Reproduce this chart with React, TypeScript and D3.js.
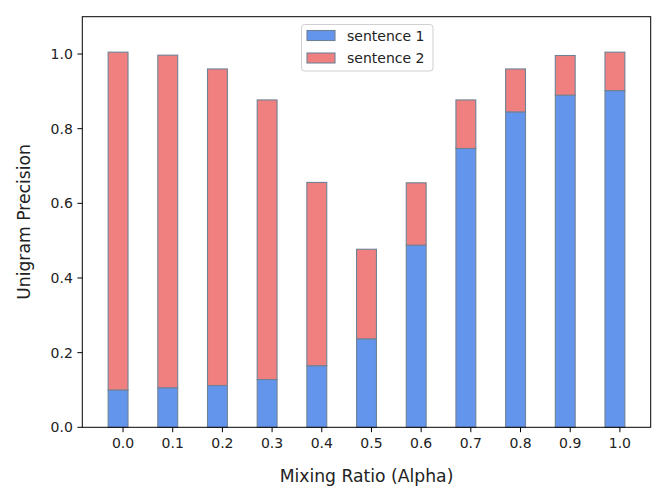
import React from "react";
import * as d3 from "d3";

const categories: string[] = ["0.0", "0.1", "0.2", "0.3", "0.4", "0.5", "0.6", "0.7", "0.8", "0.9", "1.0"];
const sentence1: number[] = [0.100, 0.106, 0.112, 0.128, 0.165, 0.237, 0.488, 0.747, 0.845, 0.890, 0.902];
const sentence2: number[] = [0.905, 0.891, 0.848, 0.749, 0.491, 0.240, 0.167, 0.130, 0.115, 0.106, 0.103];
const seriesNames: string[] = ["sentence 1", "sentence 2"];
const yTicks: number[] = [0, 0.2, 0.4, 0.6, 0.8, 1.0];

const W = 666;
const H = 502;
const M = { left: 82.3, right: 650.7, top: 16.7, bottom: 427.3 };
const colors = ["#6495ED", "#F08080"];
const edge = "#6f8295";
const font = "DejaVu Sans, sans-serif";
const tickFS = 14;
const labelFS = 17.2;

export default function App() {
  const x = d3.scaleLinear().domain([-0.72, categories.length - 1 + 0.72]).range([M.left, M.right]);
  const y = d3.scaleLinear().domain([0, 1.1]).range([M.bottom, M.top]);
  const barW = x(0.4) - x(0);
  const rows = categories.map((c, i) => ({ i, s1: sentence1[i], s2: sentence2[i] }));
  const stacked = d3.stack<any>().keys(["s1", "s2"])(rows);

  return (
    <svg width={W} height={H} style={{ position: "absolute", left: 0, top: 0, background: "#fff" }} fontFamily={font}>
      <rect x={0} y={0} width={W} height={H} fill="#fff" />
      {stacked.map((layer, li) => (
        <g key={li}>
          {layer.map((d, i) => (
            <rect
              key={i}
              x={x(i) - barW / 2}
              y={y(d[1])}
              width={barW}
              height={y(d[0]) - y(d[1])}
              fill={colors[li]}
              stroke={edge}
              strokeWidth={1.1}
            />
          ))}
        </g>
      ))}
      <rect x={M.left} y={M.top} width={M.right - M.left} height={M.bottom - M.top} fill="none" stroke="#000" strokeWidth={1} />
      {yTicks.map((t) => (
        <g key={t}>
          <line x1={M.left - 4.9} x2={M.left} y1={y(t)} y2={y(t)} stroke="#000" strokeWidth={1} />
          <text x={M.left - 9.5} y={y(t)} dy="0.36em" textAnchor="end" fontSize={tickFS} fill="#222">
            {t.toFixed(1)}
          </text>
        </g>
      ))}
      {categories.map((c, i) => (
        <g key={c}>
          <line x1={x(i + 0.1)} x2={x(i + 0.1)} y1={M.bottom} y2={M.bottom + 4.9} stroke="#000" strokeWidth={1} />
          <text x={x(i + 0.1)} y={M.bottom + 21} textAnchor="middle" fontSize={tickFS} fill="#222">
            {c}
          </text>
        </g>
      ))}
      <text x={(M.left + M.right) / 2} y={482} textAnchor="middle" fontSize={labelFS} fill="#222">
        Mixing Ratio (Alpha)
      </text>
      <text
        transform={`translate(29.5, ${(M.top + M.bottom) / 2}) rotate(-90)`}
        textAnchor="middle"
        fontSize={labelFS}
        fill="#222"
      >
        Unigram Precision
      </text>
      <g>
        <rect x={301.5} y={24.5} width={131.5} height={46.5} rx={3} fill="#fff" fillOpacity={0.8} stroke="#d0d0d0" strokeWidth={1} />
        {seriesNames.map((n, i) => (
          <g key={n}>
            <rect x={307} y={30.5 + i * 22.5} width={28} height={10} fill={colors[i]} stroke={edge} strokeWidth={1.1} />
            <text x={347} y={35.5 + i * 22.5} dy="0.36em" fontSize={tickFS} fill="#222">
              {n}
            </text>
          </g>
        ))}
      </g>
    </svg>
  );
}
